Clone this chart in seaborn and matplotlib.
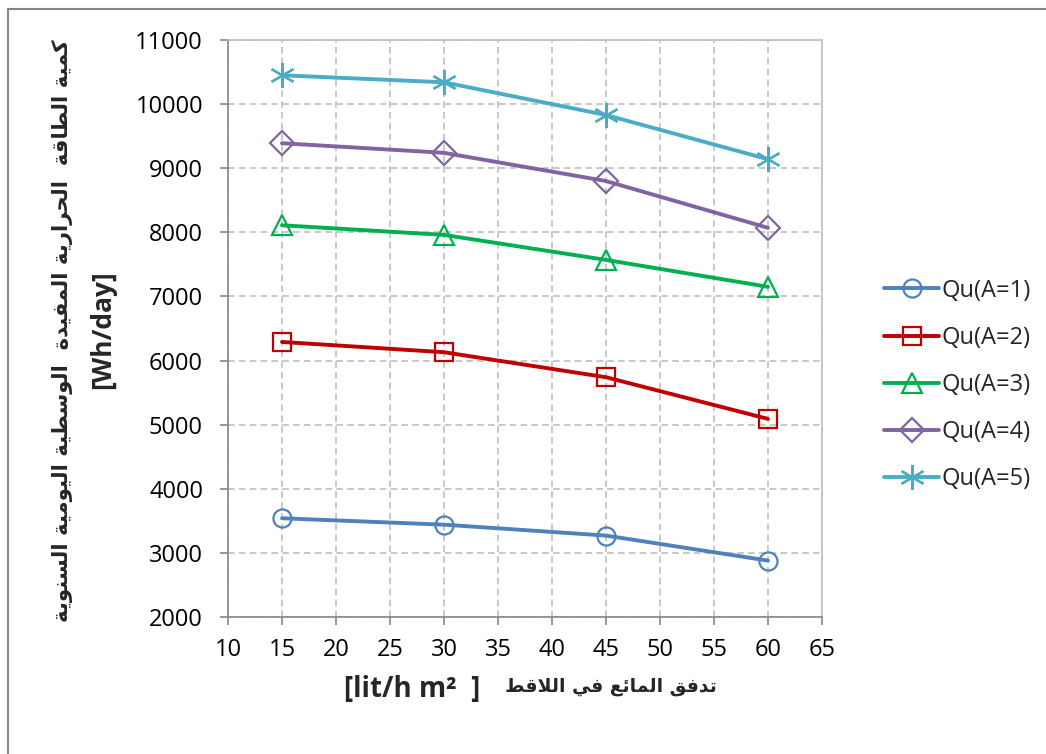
import numpy as np
import pandas as pd
import seaborn as sns
import matplotlib
matplotlib.use("Agg")
import matplotlib.pyplot as plt
from matplotlib.lines import Line2D

# ---------------- data ----------------
flow = [15, 30, 45, 60]
qu_a1 = [3540, 3440, 3270, 2880]
qu_a2 = [6290, 6130, 5740, 5090]
qu_a3 = [8110, 7960, 7570, 7150]
qu_a4 = [9390, 9240, 8800, 8070]
qu_a5 = [10450, 10340, 9830, 9140]
series_names = ["Qu(A=1)", "Qu(A=2)", "Qu(A=3)", "Qu(A=4)", "Qu(A=5)"]
x_ticks = [10, 15, 20, 25, 30, 35, 40, 45, 50, 55, 60, 65]
y_ticks = [2000, 3000, 4000, 5000, 6000, 7000, 8000, 9000, 10000, 11000]
ylabel_ar = "كمية الطاقة  الحرارية المفيدة  الوسطية اليومية السنوية"
ylabel_unit = "[Wh/day]"
xlabel_ar = "تدفق المائع في اللاقط"
xlabel_unit = "[lit/h m²  ]"

# ---------------- simple Arabic shaping ----------------
# (isolated, final, initial, medial); None for right-joining letters
FORMS = {
    "ا": (0xFE8D, 0xFE8E, None, None),
    "ب": (0xFE8F, 0xFE90, 0xFE91, 0xFE92),
    "ة": (0xFE93, 0xFE94, None, None),
    "ت": (0xFE95, 0xFE96, 0xFE97, 0xFE98),
    "ح": (0xFEA1, 0xFEA2, 0xFEA3, 0xFEA4),
    "د": (0xFEA9, 0xFEAA, None, None),
    "ر": (0xFEAD, 0xFEAE, None, None),
    "س": (0xFEB1, 0xFEB2, 0xFEB3, 0xFEB4),
    "ط": (0xFEC1, 0xFEC2, 0xFEC3, 0xFEC4),
    "ع": (0xFEC9, 0xFECA, 0xFECB, 0xFECC),
    "ف": (0xFED1, 0xFED2, 0xFED3, 0xFED4),
    "ق": (0xFED5, 0xFED6, 0xFED7, 0xFED8),
    "ك": (0xFED9, 0xFEDA, 0xFEDB, 0xFEDC),
    "ل": (0xFEDD, 0xFEDE, 0xFEDF, 0xFEE0),
    "م": (0xFEE1, 0xFEE2, 0xFEE3, 0xFEE4),
    "ن": (0xFEE5, 0xFEE6, 0xFEE7, 0xFEE8),
    "و": (0xFEED, 0xFEEE, None, None),
    "ي": (0xFEF1, 0xFEF2, 0xFEF3, 0xFEF4),
    "ئ": (0xFE89, 0xFE8A, 0xFE8B, 0xFE8C),
    "LA": (0xFEFB, 0xFEFC, None, None),
}


def shape_arabic(text):
    chars = []
    i = 0
    while i < len(text):
        if text[i] == "ل" and i + 1 < len(text) and text[i + 1] == "ا":
            chars.append("LA")
            i += 2
        else:
            chars.append(text[i])
            i += 1

    def joins_left(c):
        return c in FORMS and FORMS[c][2] is not None

    out = []
    for k, c in enumerate(chars):
        if c not in FORMS:
            out.append(c)
            continue
        prev = chars[k - 1] if k > 0 else None
        nxt = chars[k + 1] if k + 1 < len(chars) else None
        con_prev = prev is not None and joins_left(prev)
        con_next = nxt is not None and nxt in FORMS and joins_left(c)
        iso, fin, ini, med = FORMS[c]
        if con_prev and con_next:
            code = med
        elif con_prev:
            code = fin
        elif con_next:
            code = ini
        else:
            code = iso
        out.append(chr(code))
    return "".join(out)[::-1]


# ---------------- figure ----------------
sns.set_theme(style="white")
plt.rcParams["font.family"] = ["Open Sans", "DejaVu Sans"]

fig = plt.figure(figsize=(10.46, 7.54), dpi=100)
ax = fig.add_axes([228 / 1046, 1 - 617 / 754, (822 - 228) / 1046, (617 - 40) / 754])

colors = ["#4F81BD", "#C00000", "#00B050", "#8064A2", "#4BACC6"]
markers = ["o", "s", "^", "D", (6, 2, 0)]
msizes = [13, 13, 15, 12, 18]
values = [qu_a1, qu_a2, qu_a3, qu_a4, qu_a5]

rows = []
for name, vals in zip(series_names, values):
    for f, v in zip(flow, vals):
        rows.append({"flow": f, "Qu": v, "series": name})
df = pd.DataFrame(rows)

for name, c, m, ms in zip(series_names, colors, markers, msizes):
    sub = df[df["series"] == name]
    sns.lineplot(data=sub, x="flow", y="Qu", ax=ax, color=c, lw=2.8,
                 marker=m, markersize=ms, markerfacecolor="none",
                 markeredgecolor=c, markeredgewidth=1.6, label=name,
                 legend=False, zorder=3)

ax.set_xlim(10, 65)
ax.set_ylim(2000, 11000)
ax.set_xticks(x_ticks)
ax.set_yticks(y_ticks)
ax.grid(True, color="#BFBFBF", linestyle=(0, (4, 2.5)), linewidth=1.2)
for s in ax.spines.values():
    s.set_color("#BFBFBF")
    s.set_linewidth(1.2)
ax.spines["left"].set_color("#868686")
ax.spines["bottom"].set_color("#868686")
ax.tick_params(axis="both", which="major", direction="out", length=6,
               width=1.2, color="#868686", labelsize=17, labelcolor="black",
               left=True, bottom=True)
ax.tick_params(axis="y", pad=12)
ax.tick_params(axis="x", pad=9)
ax.set_xlabel("")
ax.set_ylabel("")

# axis titles
fig.text(480 / 1046, 1 - 690 / 754, xlabel_unit,
         ha="right", va="center", fontsize=20, fontweight="bold")
fig.text(717 / 1046, 1 - 687 / 754, shape_arabic(xlabel_ar),
         ha="right", va="center", fontsize=13.5, fontweight="bold",
         family=["DejaVu Sans"])
fig.text(63 / 1046, 1 - 331 / 754, shape_arabic(ylabel_ar), rotation=90,
         ha="center", va="center", fontsize=15.3, fontweight="bold",
         family=["DejaVu Sans"])
fig.text(103 / 1046, 1 - 330 / 754, ylabel_unit, rotation=90,
         ha="center", va="center", fontsize=19, fontweight="bold")

# legend
handles = [Line2D([0], [0], color=c, lw=2.8, marker=m, markersize=ms,
                  markerfacecolor="none", markeredgecolor=c, markeredgewidth=1.6)
           for c, m, ms in zip(colors, markers, msizes)]
fig.legend(handles, series_names, loc="center left",
           bbox_to_anchor=(875 / 1046, 1 - 385 / 754), frameon=False,
           fontsize=17, handlelength=2.3, labelspacing=0.98,
           handletextpad=0.1, borderaxespad=0)

# outer chart frame (partially visible)
fig.add_artist(Line2D([8 / 1046, 8 / 1046], [0, 1 - 9 / 754], color="#868686",
                      lw=1.5, transform=fig.transFigure))
fig.add_artist(Line2D([8 / 1046, 1], [1 - 9 / 754, 1 - 9 / 754], color="#868686",
                      lw=1.5, transform=fig.transFigure))

fig.savefig("out.png", dpi=100)
